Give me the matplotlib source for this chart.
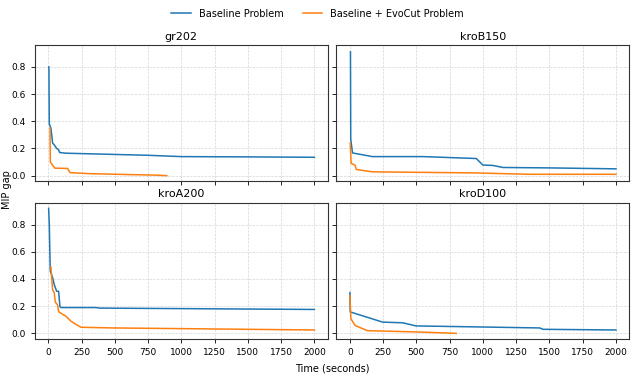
import matplotlib
matplotlib.use("Agg")
import matplotlib.pyplot as plt

# MIP gap over time
titles = ['gr202', 'kroB150', 'kroA200', 'kroD100']

gr202_base_t = [5, 8, 20, 33, 50, 63, 78, 86, 134, 740, 1000, 1500, 2000]
gr202_base_g = [0.80, 0.38, 0.35, 0.24, 0.22, 0.20, 0.19, 0.17, 0.165, 0.15, 0.14, 0.138, 0.135]
gr202_evo_t = [13, 16, 30, 50, 146, 150, 164, 300, 600, 800, 891]
gr202_evo_g = [0.35, 0.10, 0.08, 0.055, 0.053, 0.045, 0.022, 0.015, 0.008, 0.004, 0.0]

kroB150_base_t = [5, 7, 20, 170, 550, 950, 1000, 1075, 1150, 1500, 2000]
kroB150_base_g = [0.91, 0.27, 0.167, 0.14, 0.14, 0.126, 0.078, 0.075, 0.06, 0.057, 0.05]
kroB150_evo_t = [3, 10, 38, 50, 170, 950, 1340, 2000]
kroB150_evo_g = [0.24, 0.09, 0.078, 0.045, 0.028, 0.02, 0.01, 0.01]

kroA200_base_t = [3, 8, 15, 33, 45, 63, 78, 88, 96, 360, 385, 2000]
kroA200_base_g = [0.92, 0.80, 0.46, 0.41, 0.36, 0.31, 0.31, 0.196, 0.19, 0.19, 0.186, 0.176]
kroA200_evo_t = [20, 33, 45, 53, 70, 78, 108, 134, 170, 222, 247, 490, 2000]
kroA200_evo_g = [0.49, 0.32, 0.30, 0.23, 0.21, 0.16, 0.14, 0.126, 0.09, 0.058, 0.045, 0.04, 0.025]

kroD100_base_t = [1, 3, 246, 397, 497, 1427, 1452, 2000]
kroD100_base_g = [0.30, 0.158, 0.083, 0.078, 0.055, 0.04, 0.03, 0.025]
kroD100_evo_t = [1, 8, 40, 133, 522, 800]
kroD100_evo_g = [0.277, 0.108, 0.058, 0.02, 0.01, 0.0]

base_t = [gr202_base_t, kroB150_base_t, kroA200_base_t, kroD100_base_t]
base_g = [gr202_base_g, kroB150_base_g, kroA200_base_g, kroD100_base_g]
evo_t = [gr202_evo_t, kroB150_evo_t, kroA200_evo_t, kroD100_evo_t]
evo_g = [gr202_evo_g, kroB150_evo_g, kroA200_evo_g, kroD100_evo_g]

fig, axes = plt.subplots(2, 2, figsize=(6.35, 3.79), dpi=100, sharex=True, sharey=True)
fig.subplots_adjust(left=0.055, right=0.991, top=0.881, bottom=0.106,
                    wspace=0.03, hspace=0.16)

for i, ax in enumerate(axes.flat):
    ax.plot(base_t[i], base_g[i], color='#1f77b4', lw=1.1, label='Baseline Problem')
    ax.plot(evo_t[i], evo_g[i], color='#ff7f0e', lw=1.1, label='Baseline + EvoCut Problem')
    ax.set_title(titles[i], fontsize=8, pad=4)
    ax.grid(True, ls='--', lw=0.5, color='#cccccc', alpha=0.8)
    ax.tick_params(labelsize=6.5, length=3, width=0.6)
    for s in ax.spines.values():
        s.set_linewidth(0.8)
        s.set_color('#333333')

axes[0, 0].set_ylim(-0.04, 0.96)
axes[0, 0].set_yticks([0.0, 0.2, 0.4, 0.6, 0.8])
axes[0, 0].set_xticks([0, 250, 500, 750, 1000, 1250, 1500, 1750, 2000])
axes[0, 0].set_xlim(-100, 2100)

handles, labels = axes[0, 0].get_legend_handles_labels()
fig.legend(handles, labels, loc='upper center', ncol=2, frameon=False,
           fontsize=7, bbox_to_anchor=(0.5, 1.0), columnspacing=2.0)
fig.text(0.523, 0.02, 'Time (seconds)', ha='center', fontsize=7)
fig.text(0.003, 0.5, 'MIP gap', va='center', rotation=90, fontsize=7)

plt.savefig('out.png', dpi=100)
